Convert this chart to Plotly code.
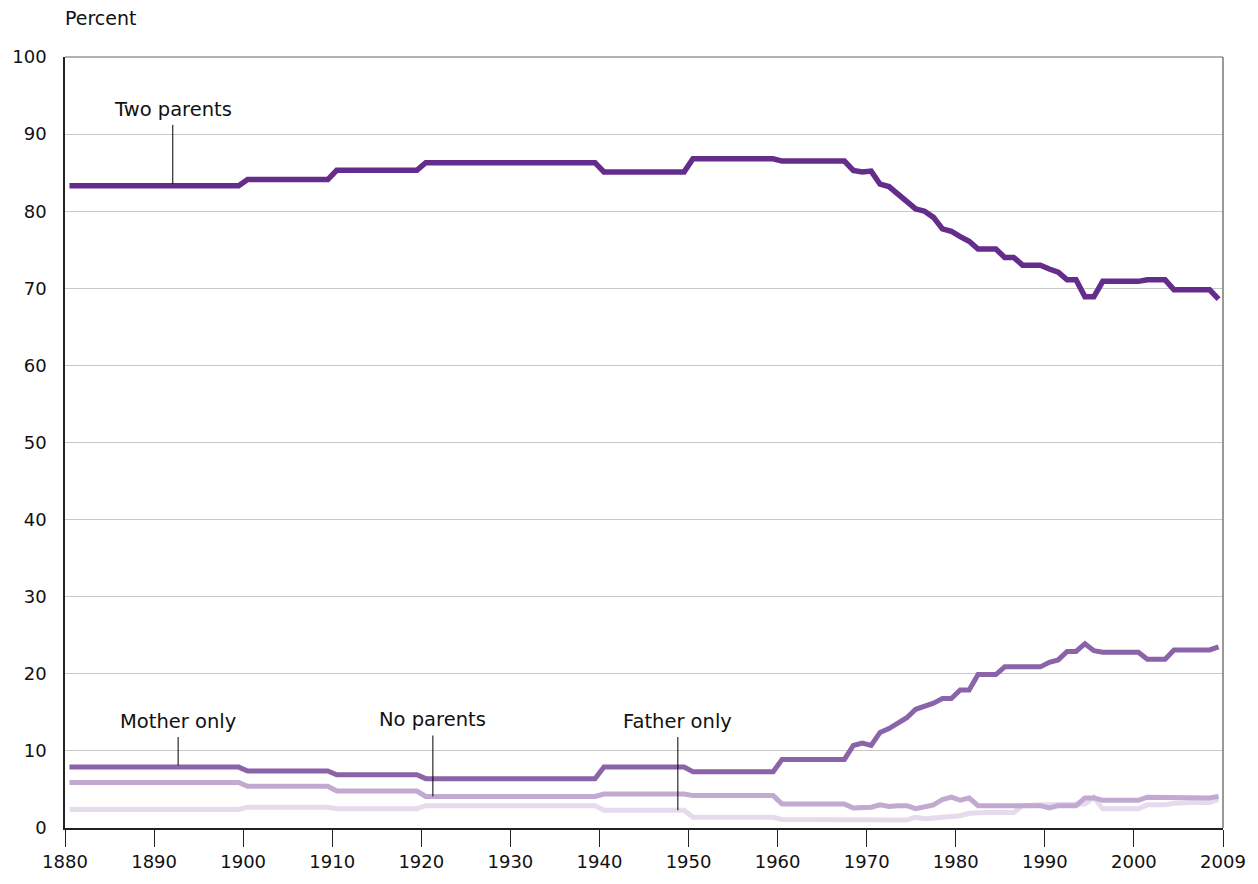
import plotly.graph_objects as go

# ---- data (percent of children by living arrangement) ----
years = [1880, 1899, 1900, 1909, 1910, 1919, 1920, 1939, 1940, 1949, 1950, 1959] + list(range(1960, 2010))

two_parents = [83.3, 83.3, 84.1, 84.1, 85.3, 85.3, 86.3, 86.3, 85.1, 85.1, 86.8, 86.8,
               86.5, 86.5, 86.5, 86.5, 86.5, 86.5, 86.5, 86.5,
               85.3, 85.1, 85.2,
               83.5, 83.2, 82.2, 81.4, 80.3, 80.0, 79.2, 77.7, 77.4,
               76.7, 76.1, 75.1, 75.1, 75.1, 74.0, 74.0, 73.0, 73.0, 73.0,
               72.5, 72.1, 71.1, 71.1, 68.9, 68.9, 70.9, 70.9, 70.9, 70.9,
               70.9, 71.1, 71.1, 71.1, 69.8, 69.8, 69.8, 69.8, 69.8,
               68.6]

mother_only = [7.9, 7.9, 7.4, 7.4, 6.9, 6.9, 6.4, 6.4, 7.9, 7.9, 7.3, 7.3,
               8.9, 8.9, 8.9, 8.9, 8.9, 8.9, 8.9, 8.9,
               10.7, 11.0, 10.7,
               12.4, 12.9, 13.6, 14.3, 15.4, 15.8, 16.2, 16.8, 16.8,
               17.9, 17.9, 19.9, 19.9, 19.9, 20.9, 20.9, 20.9, 20.9, 20.9,
               21.5, 21.8, 22.9, 22.9, 23.9, 23.0, 22.8, 22.8, 22.8, 22.8,
               22.8, 21.9, 21.9, 21.9, 23.1, 23.1, 23.1, 23.1, 23.1,
               23.5]

no_parents = [5.9, 5.9, 5.4, 5.4, 4.8, 4.8, 4.1, 4.1, 4.4, 4.4, 4.2, 4.2,
              3.1, 3.1, 3.1, 3.1, 3.1, 3.1, 3.1, 3.1,
              2.6, 2.6, 2.7,
              3.0, 2.8, 2.9, 2.9, 2.5, 2.8, 3.0, 3.7, 4.0,
              3.6, 3.9, 2.9, 2.9, 2.9, 2.9, 2.9, 2.9, 2.9, 2.9,
              2.6, 2.9, 2.9, 2.9, 3.9, 3.9, 3.6, 3.6, 3.6, 3.6,
              3.6, 4.0, 4.0, 4.0, 3.9, 3.9, 3.9, 3.9, 3.9,
              4.1]

father_only = [2.4, 2.4, 2.7, 2.7, 2.5, 2.5, 2.9, 2.9, 2.3, 2.3, 1.4, 1.4,
               1.1, 1.1, 1.1, 1.1, 1.1, 1.1, 1.1, 1.1,
               0.95, 0.95, 0.95,
               0.95, 1.0, 1.0, 1.05, 1.4, 1.2, 1.3, 1.4, 1.55,
               1.6, 1.9, 2.0, 2.0, 2.0, 2.0, 2.0, 2.9, 3.0, 3.0,
               3.0, 3.0, 3.0, 3.0, 3.1, 4.0, 2.5, 2.5, 2.5, 2.5,
               2.5, 3.0, 3.0, 3.0, 3.2, 3.3, 3.3, 3.3, 3.3,
               3.7]

tick_years = [1880, 1890, 1900, 1910, 1920, 1930, 1940, 1950, 1960, 1970, 1980, 1990, 2000, 2010]
tick_text = ["1880", "1890", "1900", "1910", "1920", "1930", "1940", "1950",
             "1960", "1970", "1980", "1990", "2000", "2009"]
y_ticks = [0, 10, 20, 30, 40, 50, 60, 70, 80, 90, 100]

series = [
    ("Father only", father_only, "#e5dbec", 5),
    ("No parents", no_parents, "#c1a9d2", 5),
    ("Mother only", mother_only, "#8b63a9", 5),
    ("Two parents", two_parents, "#652d8b", 5.5),
]

# labels: (text, x of leader, y top of leader, y bottom of leader, y of text bottom)
labels = [
    ("Two parents", 1891.6, 91.2, 83.5, 91.4),
    ("Mother only", 1892.2, 11.8, 8.1, 12.0),
    ("No parents", 1920.8, 12.0, 4.1, 12.3),
    ("Father only", 1948.3, 11.8, 2.3, 12.0),
]

FONT = "DejaVu Sans"

fig = go.Figure()
for name, vals, color, w in series:
    fig.add_trace(go.Scatter(x=years, y=vals, mode="lines", name=name,
                             line=dict(color=color, width=w), showlegend=False,
                             hoverinfo="skip"))

for text, lx, ytop, ybot, ytext in labels:
    fig.add_shape(type="line", x0=lx, x1=lx, y0=ybot, y1=ytop, xref="x", yref="y",
                  line=dict(color="black", width=1))
    fig.add_annotation(x=lx, y=ytext, xref="x", yref="y", text=text, showarrow=False,
                       xanchor="center", yanchor="bottom",
                       font=dict(family=FONT, size=19.5, color="#111"))

fig.add_annotation(x=0, y=1.0504, xref="paper", yref="paper", text="Percent", showarrow=False,
                   xanchor="left", yanchor="middle", xshift=-2,
                   font=dict(family=FONT, size=19, color="#111"))

# top and right frame lines
fig.add_shape(type="line", xref="paper", yref="paper", x0=0, x1=1, y0=1, y1=1,
              line=dict(color="#666", width=1))
fig.add_shape(type="line", xref="paper", yref="paper", x0=1, x1=1, y0=0, y1=1,
              line=dict(color="#777", width=1.5))

fig.update_layout(
    width=1258, height=884,
    margin=dict(l=63, r=24, t=57, b=53),
    paper_bgcolor="white", plot_bgcolor="white",
    font=dict(family=FONT, size=18, color="#111"),
    xaxis=dict(range=[1879.5, 2009.5], tickvals=[t - 0.5 for t in tick_years], ticktext=tick_text,
               showgrid=False, zeroline=False, showline=True, linecolor="#222", linewidth=1.5,
               ticks="outside", ticklen=17, tickwidth=1, tickcolor="#222",
               tickfont=dict(family=FONT, size=18, color="#111")),
    yaxis=dict(range=[0, 100], tickvals=y_ticks, showgrid=True, gridcolor="#c8c8c8", gridwidth=1,
               zeroline=False, showline=True, linecolor="#222", linewidth=1.5, ticks="",
               ticklabelstandoff=13, tickfont=dict(family=FONT, size=18, color="#111")),
)

fig.write_html("out.html", config={"displayModeBar": False},
               post_script="document.body.style.margin='0';document.body.style.overflow='hidden';")
